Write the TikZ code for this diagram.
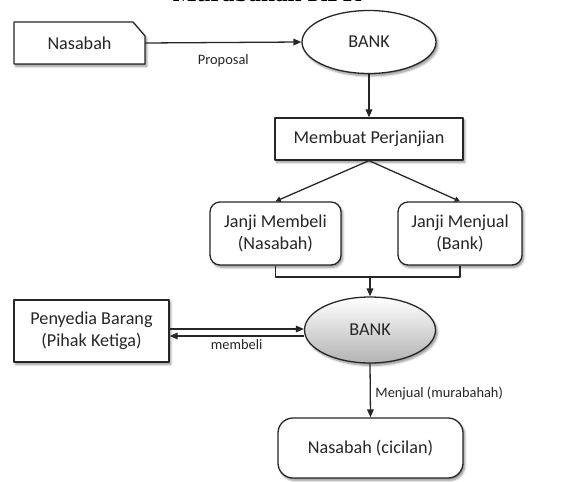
\documentclass[tikz,border=0pt]{standalone}
\usepackage{fontspec}
\setmainfont{Carlito}
\newfontfamily\titlefont{Liberation Serif}
\usetikzlibrary{calc}
\usetikzlibrary{positioning}
\usetikzlibrary{arrows.meta, shapes.geometric}
\usetikzlibrary{shadows.blur}

\begin{document}
\begin{tikzpicture}[
  x=0.03cm,y=-0.03cm,
  line join=round,
  >={Triangle[length=0.24cm,width=0.2cm]},
  small/.style={-{Triangle[length=0.16cm,width=0.16cm]}},
  flow/.style={draw=black!85,line width=1.1pt},
  softshadow/.style={blur shadow={shadow xshift=1.5pt,shadow yshift=-2pt,shadow blur steps=6,shadow opacity=45}},
  txt/.style={font=\fontsize{15.5}{19}\selectfont,align=center,text=black!85},
  lbl/.style={font=\fontsize{12.3}{14}\selectfont,text=black!85,inner sep=1pt},
  box/.style={txt,rectangle,draw=black!85,line width=1.1pt,fill=white,softshadow},
  roundbox/.style={box,rounded corners=0.3cm},
  bankshape/.style={txt,ellipse,inner sep=0pt,draw=black!85,line width=1.1pt,fill=white,softshadow},
  card/.style={txt,rectangle,minimum width=3.93cm,minimum height=1.26cm}
]
\useasboundingbox (0,0) rectangle (568,481);

% Title, cut at the top edge
\node[font=\titlefont\bfseries\fontsize{21.5}{24}\selectfont,anchor=base] (title) at (267,1.5) {Murabahah KPR};

% Top row: proposal to the bank
\coordinate (C) at (79.5,43);
\draw[flow,fill=white,softshadow] ($(C)+(-65.5,-21)$) -- ($(C)+(53.5,-21)$) -- ($(C)+(65.5,-7)$)
  -- ($(C)+(65.5,21)$) -- ($(C)+(-65.5,21)$) -- cycle;
\node[card] (nasabah) at (C) {Nasabah};
\node[bankshape,minimum width=4.02cm,minimum height=1.89cm] (bank) at (369,42) {BANK};
\draw[flow,->] (nasabah.east) -- node[lbl,below,yshift=-0.3cm] {Proposal} (bank.west);

% Agreement
\node[box,minimum width=5.64cm,minimum height=1.26cm] (perjanjian) at (369,139) {Membuat Perjanjian};
\draw[flow,->] (bank.south) -- (perjanjian.north);

\node[roundbox,minimum width=3.93cm,minimum height=1.89cm] (membeli) at (275.5,233.5) {Janji Membeli\\(Nasabah)};
\node[roundbox,minimum width=3.72cm,minimum height=1.89cm] (menjual) at (460,233.5) {Janji Menjual\\(Bank)};
\draw[flow,small] (perjanjian.south) -- (membeli.north);
\draw[flow,small] (perjanjian.south) -- (menjual.north);

% Both promises back to the bank
\coordinate (join) at (370,277);
\node[bankshape,minimum width=3.93cm,minimum height=1.98cm,shading=axis,top color=white,bottom color=black!30] (bank2) at (370,330) {BANK};
\draw[flow] (membeli.south) |- (join) -| (menjual.south);
\draw[flow,->] (join) -- (bank2.north);

% Purchase from the supplier
\node[box,minimum width=4.65cm,minimum height=1.86cm] (penyedia) at (91.5,331) {Penyedia Barang\\(Pihak Ketiga)};
\draw[flow,->] ([yshift=0.06cm]penyedia.east) -- ([yshift=0.06cm]penyedia.east -| bank2.west);
\draw[flow,->] ([yshift=-0.15cm]penyedia.east -| bank2.west) -- node[lbl,below,yshift=-0.05cm] {membeli} ([yshift=-0.15cm]penyedia.east);

% Sale to the customer
\node[roundbox,rounded corners=0.45cm,minimum width=5.55cm,minimum height=1.8cm] (cicilan) at (370.5,448) {Nasabah (cicilan)};
\draw[flow,->] (bank2.south) -- node[lbl,right,pos=0.55,xshift=0.1cm] {Menjual (murabahah)} (cicilan.north);

\end{tikzpicture}
\end{document}
